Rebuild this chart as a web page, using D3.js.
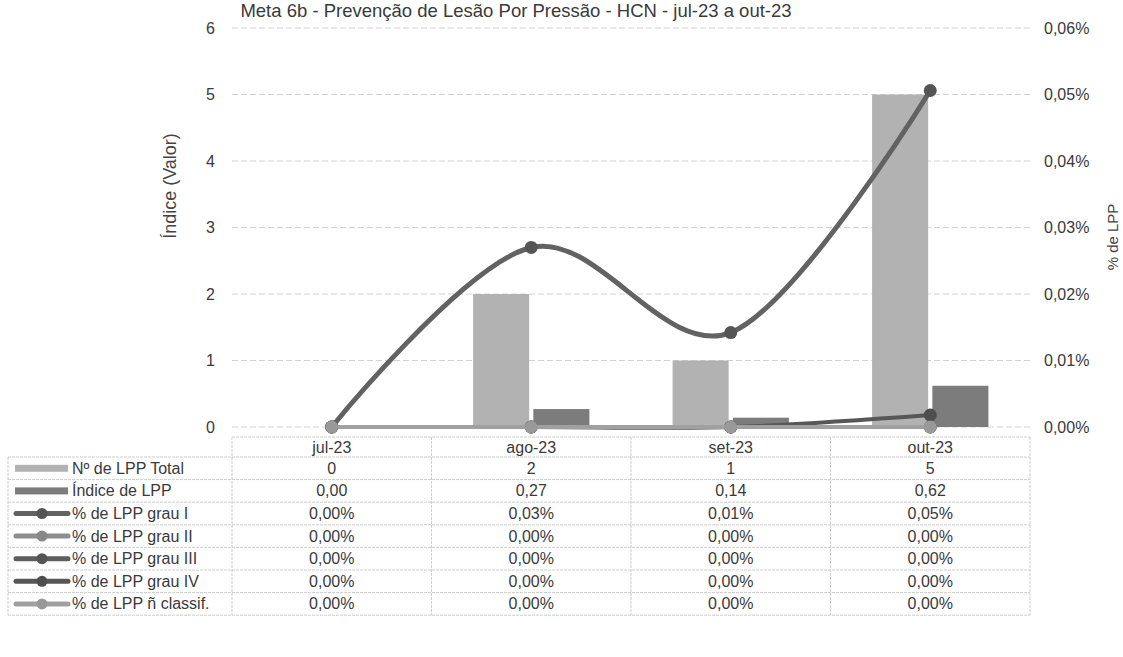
<!DOCTYPE html>
<html>
<head>
<meta charset="utf-8">
<script src="https://cdn.jsdelivr.net/npm/d3@7"></script>
<style>
  body { margin: 0; background: #fff; }
  svg { display: block; font-family: "Liberation Sans", Arial, sans-serif; }
</style>
</head>
<body>
<svg id="chart" width="1123" height="657"></svg>
<script>
// ---------- data ----------
const title = "Meta 6b - Prevenção de Lesão Por Pressão - HCN - jul-23 a out-23";
const categories = ["jul-23", "ago-23", "set-23", "out-23"];
const totalLPP = [0, 2, 1, 5];
const indiceLPP = [0, 0.27, 0.14, 0.62];
// percentages (in % units)
const grauI = [0, 0.027, 0.0142, 0.0506];
const grauII = [0, 0, 0, 0];
const grauIII = [0, 0, 0, 0];
const grauIV = [0, 0, 0, 0.0018];
const naoClassif = [0, 0, 0, 0];
const leftTicks = [0, 1, 2, 3, 4, 5, 6];
const rightTicks = [0, 0.01, 0.02, 0.03, 0.04, 0.05, 0.06];
const leftTitle = "Índice (Valor)";
const rightTitle = "% de LPP";

const barSeries = [
  { name: "Nº de LPP Total", values: totalLPP, color: "#b2b2b2", fmt: v => d3.format("d")(v) },
  { name: "Índice de LPP", values: indiceLPP, color: "#7c7c7c", fmt: v => d3.format(".2f")(v).replace(".", ",") }
];
const pctFmt = v => d3.format(".2f")(v).replace(".", ",") + "%";
const lineSeries = [
  { name: "% de LPP grau I", values: grauI, color: "#626262", marker: "#555" },
  { name: "% de LPP grau II", values: grauII, color: "#8e8e8e", marker: "#888" },
  { name: "% de LPP grau III", values: grauIII, color: "#5e5e5e", marker: "#555" },
  { name: "% de LPP grau IV", values: grauIV, color: "#575757", marker: "#4e4e4e" },
  { name: "% de LPP ñ classif.", values: naoClassif, color: "#a0a0a0", marker: "#999" }
];

// ---------- layout ----------
const svg = d3.select("#chart");
const plotL = 232, plotR = 1030, plotT = 28, plotB = 427;
const FONT = "Liberation Sans, Arial, sans-serif";
const TXT = "#3a3a3a";

const x = d3.scaleBand().domain(categories).range([plotL, plotR]).padding(0);
const xSub = d3.scaleBand().domain([0, 1]).range([0, x.bandwidth()])
  .paddingInner(0.07).paddingOuter(0.69);
const yL = d3.scaleLinear().domain([0, 6]).range([plotB, plotT]);
const yR = d3.scaleLinear().domain([0, 0.06]).range([plotB, plotT]);

// title
svg.append("text").attr("x", 516).attr("y", 17).attr("text-anchor", "middle")
  .attr("font-size", 18.5).attr("fill", "#3a3a3a").text(title);

// gridlines
svg.append("g").selectAll("line").data(leftTicks).join("line")
  .attr("x1", plotL).attr("x2", plotR)
  .attr("y1", d => yL(d)).attr("y2", d => yL(d))
  .attr("stroke", "#d2d2d2").attr("stroke-width", 1).attr("stroke-dasharray", "6,3");

// left axis
const gL = svg.append("g").attr("transform", `translate(${plotL - 14},0)`)
  .call(d3.axisLeft(yL).tickValues(leftTicks).tickSize(0).tickFormat(d3.format("d")));
gL.select(".domain").remove();
gL.selectAll("text").attr("font-size", 16).attr("fill", TXT).attr("font-family", FONT);

// right axis
const gR = svg.append("g").attr("transform", `translate(${plotR + 11},0)`)
  .call(d3.axisRight(yR).tickValues(rightTicks).tickSize(0).tickFormat(pctFmt));
gR.select(".domain").remove();
gR.selectAll("text").attr("font-size", 16).attr("fill", TXT).attr("font-family", FONT);

// axis titles
svg.append("text").attr("transform", `translate(176,186) rotate(-90)`)
  .attr("text-anchor", "middle").attr("font-size", 18).attr("fill", "#444").text(leftTitle);
svg.append("text").attr("transform", `translate(1118,237) rotate(-90)`)
  .attr("text-anchor", "middle").attr("font-size", 15).attr("fill", "#444").text(rightTitle);

// bars
barSeries.forEach((s, si) => {
  svg.append("g").selectAll("rect").data(s.values).join("rect")
    .attr("x", (d, i) => x(categories[i]) + xSub(si))
    .attr("width", xSub.bandwidth())
    .attr("y", d => yL(d))
    .attr("height", d => yL(0) - yL(d))
    .attr("fill", s.color);
});

// lines
const line = d3.line()
  .x((d, i) => x(categories[i]) + x.bandwidth() / 2)
  .y(d => yR(d))
  .curve(d3.curveCatmullRom.alpha(0));

lineSeries.forEach((s, si) => {
  const g = svg.append("g");
  g.append("path").datum(s.values).attr("d", line)
    .attr("fill", "none").attr("stroke", s.color).attr("stroke-width", si === 0 ? 5 : 4)
    .attr("stroke-linecap", "round");
  g.selectAll("circle").data(s.values).join("circle")
    .attr("cx", (d, i) => x(categories[i]) + x.bandwidth() / 2)
    .attr("cy", d => yR(d))
    .attr("r", 6.5)
    .attr("fill", s.marker);
});

// ---------- data table ----------
const tableTop = 437, headerH = 20, rowH = 22.6, legendL = 8;
const tbl = svg.append("g");
const gridColor = "#cdcdcd";
const allRows = [
  ...barSeries.map(s => ({ name: s.name, kind: "bar", color: s.color, cells: s.values.map(s.fmt) })),
  ...lineSeries.map(s => ({ name: s.name, kind: "line", color: s.color, marker: s.marker, cells: s.values.map(pctFmt) }))
];
const rowsTop = tableTop + headerH;
const tableBottom = rowsTop + rowH * allRows.length;

// header cells
categories.forEach(c => {
  tbl.append("text").attr("x", x(c) + x.bandwidth() / 2).attr("y", tableTop + headerH - 4)
    .attr("text-anchor", "middle").attr("font-size", 16).attr("fill", TXT).text(c);
});
// horizontal lines
tbl.append("line").attr("x1", plotL).attr("x2", plotR).attr("y1", tableTop).attr("y2", tableTop)
  .attr("stroke", gridColor).attr("stroke-dasharray", "3,1");
d3.range(allRows.length + 1).forEach(i => {
  const yy = rowsTop + i * rowH;
  tbl.append("line").attr("x1", legendL).attr("x2", plotR).attr("y1", yy).attr("y2", yy)
    .attr("stroke", gridColor).attr("stroke-dasharray", "3,1");
});
// vertical lines
[plotL, ...categories.map(c => x(c) + x.bandwidth())].forEach(xx => {
  tbl.append("line").attr("x1", xx).attr("x2", xx).attr("y1", tableTop).attr("y2", tableBottom)
    .attr("stroke", gridColor).attr("stroke-dasharray", "3,1");
});
tbl.append("line").attr("x1", legendL).attr("x2", legendL).attr("y1", rowsTop).attr("y2", tableBottom)
  .attr("stroke", gridColor).attr("stroke-dasharray", "3,1");

allRows.forEach((r, i) => {
  const cy = rowsTop + i * rowH + rowH / 2;
  if (r.kind === "bar") {
    tbl.append("rect").attr("x", 15).attr("y", cy - 3.5).attr("width", 53).attr("height", 7).attr("fill", r.color);
  } else {
    tbl.append("line").attr("x1", 16).attr("x2", 68).attr("y1", cy).attr("y2", cy)
      .attr("stroke", r.color).attr("stroke-width", 5).attr("stroke-linecap", "round");
    tbl.append("circle").attr("cx", 42).attr("cy", cy).attr("r", 5.5).attr("fill", r.marker);
  }
  tbl.append("text").attr("x", 72).attr("y", cy + 5.5).attr("font-size", 16).attr("fill", TXT).text(r.name);
  r.cells.forEach((v, j) => {
    tbl.append("text").attr("x", x(categories[j]) + x.bandwidth() / 2).attr("y", cy + 5.5)
      .attr("text-anchor", "middle").attr("font-size", 16).attr("fill", TXT).text(v);
  });
});
</script>
</body>
</html>
